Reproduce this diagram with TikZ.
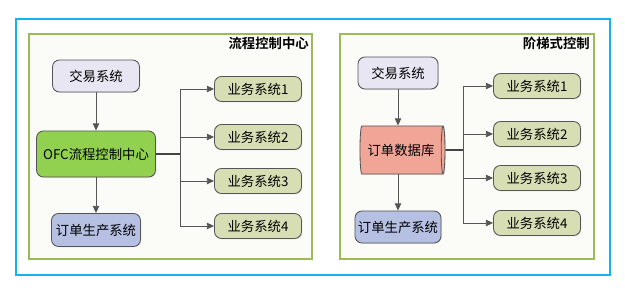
\documentclass[tikz,border=0pt]{standalone}
\usepackage{fontspec}
\setmainfont{Noto Sans CJK SC}[BoldFont={Noto Sans CJK SC Bold}]
\usetikzlibrary{arrows.meta,positioning,shapes.geometric,shadows}
\definecolor{frameblue}{RGB}{20,178,240}
\definecolor{olive}{RGB}{155,187,89}
\definecolor{lavender}{RGB}{231,230,242}
\definecolor{leaf}{RGB}{146,208,80}
\definecolor{periwinkle}{RGB}{182,192,226}
\definecolor{sage}{RGB}{215,222,180}
\definecolor{salmon}{RGB}{240,165,150}
\definecolor{edge}{RGB}{85,85,85}
\tikzset{
  >={Triangle[length=1.8mm,width=1.6mm]},
  sys/.style={draw=edge,fill=#1,rounded corners=5pt,line width=0.6pt,
    inner sep=2pt,align=center,font=\fontsize{9.5}{11}\selectfont,
    drop shadow={opacity=0.2,shadow xshift=0.6pt,shadow yshift=-0.6pt}},
  sys/.default=lavender,
  biz/.style={sys=sage,minimum width=2.175cm,minimum height=0.625cm},
  store/.style={cylinder,shape aspect=0.25,draw=edge,fill=salmon,line width=0.6pt,
    inner sep=1pt,font=\fontsize{9.5}{11}\selectfont,
    drop shadow={opacity=0.2,shadow xshift=0.6pt,shadow yshift=-0.6pt}},
  panel/.style={draw=olive,line width=1.2pt,fill=olive!4,
    drop shadow={opacity=0.15,shadow xshift=0.8pt,shadow yshift=-0.8pt}},
  caption/.style={font=\fontsize{9.5}{11}\selectfont\bfseries,anchor=north east,inner sep=0pt},
  link/.style={->,draw=edge,line width=0.6pt},
  trunk/.style={draw=edge!80!black,line width=1.3pt},
  rail/.style={draw=edge,line width=0.6pt},
}

\begin{document}
\begin{tikzpicture}[x=0.025cm,y=-0.025cm]
  \useasboundingbox (0,0) rectangle (625,293);
  % outer frame and panels
  \draw[frameblue,line width=1.5pt,fill=white,
    drop shadow={opacity=0.15,shadow xshift=0.8pt,shadow yshift=-0.8pt}] (16,19) rectangle (610,275);
  \draw[panel] (29,34) rectangle (312,259);
  \draw[panel] (340,34) rectangle (594,259);
  \node[caption] (capl) at (309,37) {流程控制中心};
  \node[caption] (capr) at (590,37) {阶梯式控制};

  % left panel
  \node[sys=lavender,minimum width=2.175cm,minimum height=0.8cm] (ltrade) at (96,76) {交易系统};
  \node[sys=leaf,minimum width=2.975cm,minimum height=1.15cm] (ofc) at (96,154) {OFC流程控制中心};
  \node[sys=periwinkle,minimum width=2.225cm,minimum height=0.825cm] (lprod) at (96,230) {订单生产系统};
  \foreach \i/\y in {1/89,2/137,3/181,4/226}
    \node[biz] (lb\i) at (258,\y) {业务系统\i};
  \draw[link] (ltrade) -- (ofc);
  \draw[link] (ofc) -- (lprod);
  \coordinate (lj) at (180,154);
  \draw[trunk] (ofc.east) -- (lj);
  \draw[rail] (lj |- lb1) -- (lj |- lb4);
  \foreach \i in {1,...,4}
    \draw[link] (lj |- lb\i) -- (lb\i.west);

  % right panel
  \node[sys=lavender,minimum width=2cm,minimum height=0.8cm] (rtrade) at (398,73) {交易系统};
  \node[store,minimum width=1.2cm,minimum height=2.125cm] (db) at (401,150) {订单数据库};
  \node[sys=periwinkle,minimum width=2.15cm,minimum height=0.8cm] (rprod) at (398,227) {订单生产系统};
  \foreach \i/\y in {1/86,2/134,3/178,4/223}
    \node[biz] (rb\i) at (537,\y) {业务系统\i};
  \draw[link] (rtrade) -- (rtrade |- db.north);
  \draw[link] (rprod |- db.south) -- (rprod);
  \coordinate (rj) at (463,150);
  \draw[trunk] (db.east) -- (rj);
  \draw[rail] (rj |- rb1) -- (rj |- rb4);
  \foreach \i in {1,...,4}
    \draw[link] (rj |- rb\i) -- (rb\i.west);
\end{tikzpicture}
\end{document}
